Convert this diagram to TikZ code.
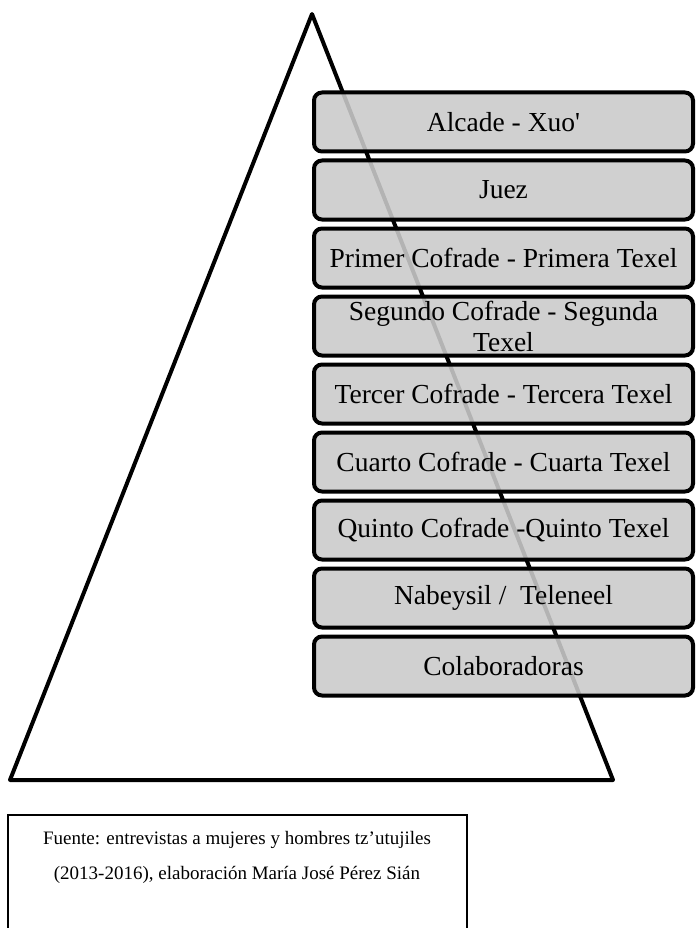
\documentclass[tikz,border=0pt]{standalone}
\usepackage{fontspec}
\setmainfont{Liberation Serif}
\usepackage{xcolor}
\usepackage{tikz}

\definecolor{rankgray}{RGB}{202,202,202}

\begin{document}
\begin{tikzpicture}[x=1pt, y=-1pt,
    rank/.style={draw, line width=4pt, rounded corners=8pt, fill=rankgray, fill opacity=0.89,
                 text opacity=1, minimum width=379pt, minimum height=59pt, inner sep=0pt,
                 align=center, font=\fontsize{27.5}{31}\selectfont}]
    \useasboundingbox (0,0) rectangle (697,928);
    % Pyramid
    \coordinate (top)   at (312, 14);
    \coordinate (left)  at ( 10,780);
    \coordinate (right) at (613,780);
    \draw[line width=4pt, line join=round] (top) -- (right) -- (left) -- cycle;
    % Ranks
    \node[rank] (alcalde)  at (503.5,122) {Alcade - Xuo\textquotesingle};
    \node[rank] (juez)     at (503.5,190) {Juez};
    \node[rank] (primer)   at (503.5,258) {Primer Cofrade - Primera Texel};
    \node[rank] (segundo)  at (503.5,326) {Segundo Cofrade - Segunda\\Texel};
    \node[rank] (tercer)   at (503.5,394) {Tercer Cofrade - Tercera Texel};
    \node[rank] (cuarto)   at (503.5,462) {Cuarto Cofrade - Cuarta Texel};
    \node[rank] (quinto)   at (503.5,530) {Quinto Cofrade -Quinto Texel};
    \node[rank] (nabeysil) at (503.5,598) {Nabeysil /\ \ Teleneel};
    \node[rank] (colab)    at (503.5,666) {Colaboradoras};
    % Source box
    \draw[line width=1.5pt] (8,815) rectangle (467,940);
    \node[align=center, font=\fontsize{19}{35}\selectfont] (fuente) at (237,857)
        {Fuente: entrevistas a mujeres y hombres tz’utujiles\\(2013-2016), elaboración María José Pérez Sián};
\end{tikzpicture}
\end{document}
